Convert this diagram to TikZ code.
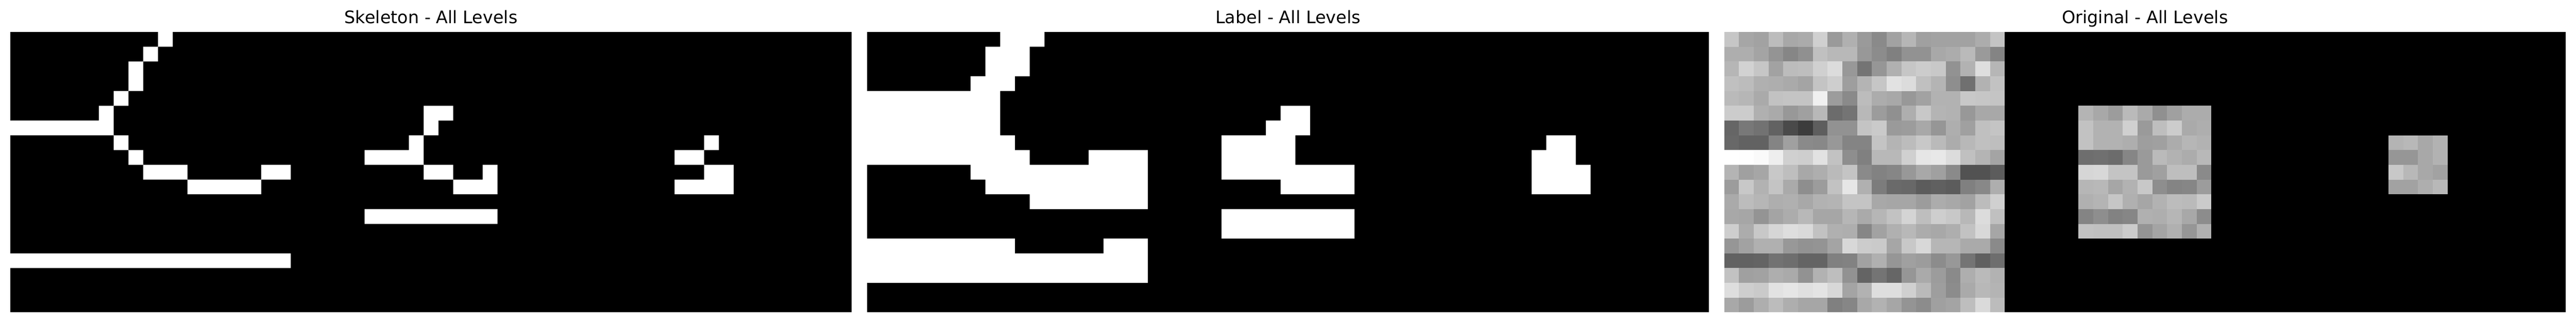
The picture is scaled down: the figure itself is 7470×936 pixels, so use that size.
\documentclass[tikz,border=0pt]{standalone}
\usepackage{fontspec}
\setmainfont{DejaVu Sans}
\tikzset{
  paneltitle/.style={anchor=base,inner sep=0pt,font=\fontsize{12}{14}\selectfont,text=black},
  cellgrid/.style={x=10.2737pt,y=-10.2737pt},
}
\newcommand{\graypatch}[5]{% col, row, ncols, nrows, list of rows
  \begin{scope}[shift={(#1,#2)}]
    \definecolor{patchbase}{HTML}{A8A8A8}
    \fill[patchbase] (0,0) rectangle (#3,#4);
    \foreach \rowvals [count=\ri from 0] in {#5}{
      \foreach \gv [count=\ci from 0] in \rowvals{
        \definecolor{cellcol}{HTML}{\gv\gv\gv}
        \fill[cellcol] (\ci,\ri) rectangle +(1,1);
      }
    }
  \end{scope}}
\begin{document}
\begin{tikzpicture}[x=0.24pt,y=-0.24pt]
\useasboundingbox (0,0) rectangle (7470,936);
\fill[white] (0,0) rectangle (7470,936);

\node[paneltitle] (titleA) at (1250,68.3) {Skeleton - All Levels};
\node[paneltitle] (titleB) at (3735,68.3) {Label - All Levels};
\node[paneltitle] (titleC) at (6220,68.3) {Original - All Levels};

% Skeleton
\begin{scope}[shift={(30,92.7)},cellgrid]
\fill[black] (0,0) rectangle (57,19);
\fill[white]
  (10,-0.05) rectangle (11,1) (9,1) rectangle (10,2) (8,2) rectangle (9,4)
  (7,4) rectangle (8,5) (6,5) rectangle (7,6) (-0.05,6) rectangle (7,7)
  (7,7) rectangle (8,8) (8,8) rectangle (9,9) (9,9) rectangle (12,10)
  (12,10) rectangle (17,11) (17,9) rectangle (19,10) (-0.05,15) rectangle (19,16)
  (28,5) rectangle (30,6) (28,6) rectangle (29,7) (27,7) rectangle (28,8)
  (24,8) rectangle (28,9) (28,9) rectangle (30,10) (32,9) rectangle (33,10)
  (30,10) rectangle (33,11) (24,12) rectangle (33,13)
  (47,7) rectangle (48,8) (45,8) rectangle (47,9) (47,9) rectangle (49,10)
  (45,10) rectangle (49,11);
\end{scope}

% Label
\begin{scope}[shift={(2515,92.7)},cellgrid]
\fill[black] (0,0) rectangle (57,19);
\fill[white]
  (9,-0.05) rectangle (12,1) (8,1) rectangle (11,3) (7,3) rectangle (10,4)
  (-0.05,4) rectangle (9,7) (-0.05,7) rectangle (10,8) (-0.05,8) rectangle (11,9)
  (15,8) rectangle (19,9) (7,9) rectangle (19,10) (8,10) rectangle (19,11)
  (11,11) rectangle (19,12) (-0.05,14) rectangle (10,15) (16,14) rectangle (19,15)
  (-0.05,15) rectangle (19,17)
  (28,5) rectangle (30,6) (27,6) rectangle (30,7) (24,7) rectangle (29,9)
  (24,9) rectangle (33,10) (28,10) rectangle (33,11) (24,12) rectangle (33,14)
  (46,7) rectangle (48,8) (45,8) rectangle (48,9) (45,9) rectangle (49,11);
\end{scope}

% Original
\begin{scope}[shift={(5000,92.7)},cellgrid]
\fill[black] (0,0) rectangle (57,19);
\graypatch{0}{0}{19}{19}{
{C6,A6,A2,BC,A8,AB,D0,9A,B0,9A,8A,A2,B6,A0,A2,A2,A2,AC,C4},
{AE,AE,A4,94,86,90,C0,B8,B8,98,8C,80,92,92,A8,AC,BA,9A,84},
{B6,D2,C6,A2,BC,BE,D0,DC,98,74,96,B0,C6,CC,C8,92,B2,DE,B6},
{C0,BC,B0,AE,AA,A4,C4,CE,9E,B4,C6,E2,DC,C0,B4,8E,70,B2,C2},
{BA,B6,AA,C2,C4,C4,F0,9C,8A,BC,AC,A8,98,A2,B2,B2,C8,C6,C4},
{CC,CC,B0,AA,98,A0,B8,6C,74,B8,9C,90,AE,C8,B4,B2,98,A8,A8},
{66,78,72,62,4A,3C,5E,92,92,C4,CA,9A,9C,A8,96,AE,A0,C0,C4},
{68,62,62,84,A0,8A,88,98,84,84,C4,B4,BC,C8,BA,AC,B8,C0,BE},
{FF,FE,FA,EE,D0,CE,E2,C2,8E,80,B8,B8,D0,E6,E8,DC,C0,B4,A4},
{B4,A0,A6,C8,BE,A8,AE,BA,C4,8A,82,86,98,A8,A0,8A,52,52,5C},
{9C,C8,B2,C4,AA,8E,9C,C2,E6,B0,7C,6A,68,5C,60,5C,80,88,AE},
{AA,BC,B6,AE,B0,A8,B2,B4,C4,C4,A8,A6,A6,9C,AC,A8,A2,BC,D0},
{A8,A6,94,A4,AC,B8,A6,A6,B6,AA,B6,C2,D4,BE,CE,C8,B8,DC,C0},
{CE,AC,C8,D6,DE,DA,C2,B0,AE,86,A2,B0,B8,AC,A8,AE,C2,D8,A6},
{96,A2,B0,B0,98,92,94,A4,D8,CC,CA,A6,C8,D8,B6,B6,AA,AA,8A},
{62,62,64,72,6E,64,64,80,82,A2,B0,96,A0,9C,8C,98,74,60,6E},
{C2,A0,A2,AE,AA,92,B2,BE,92,64,74,66,96,AA,9C,8A,AE,BA,B2},
{DE,CE,CA,E2,E6,E0,E4,D8,A4,B2,DE,DE,D0,BA,9E,8C,AA,B8,B4},
{A8,9C,AE,BC,AE,A6,A6,80,86,A8,B2,A6,94,8C,A0,A4,BE,DA,BC}}
\graypatch{24}{5}{9}{9}{
{B4,A8,9C,BA,AA,90,A0,AC,AC},
{C2,B2,B2,D0,9A,BE,CC,AA,AE},
{C2,B2,B2,AE,9E,A0,AC,B6,B2},
{6E,70,6C,86,9A,BA,B2,AC,B8},
{D6,D8,C4,C4,9A,A0,BE,BE,8A},
{B6,B8,A6,B2,C8,8E,84,86,9C},
{B0,B4,C6,B0,A6,B2,BC,BA,CA},
{84,8E,82,86,B0,AE,B6,A8,8C},
{C2,C0,C0,CC,94,A4,B0,96,B0}}
\graypatch{45}{7}{4}{4}{
{B4,B8,A8,B2},
{96,96,A8,B2},
{C8,B8,A8,A2},
{A2,A2,AE,B8}}
\end{scope}
\end{tikzpicture}
\end{document}
